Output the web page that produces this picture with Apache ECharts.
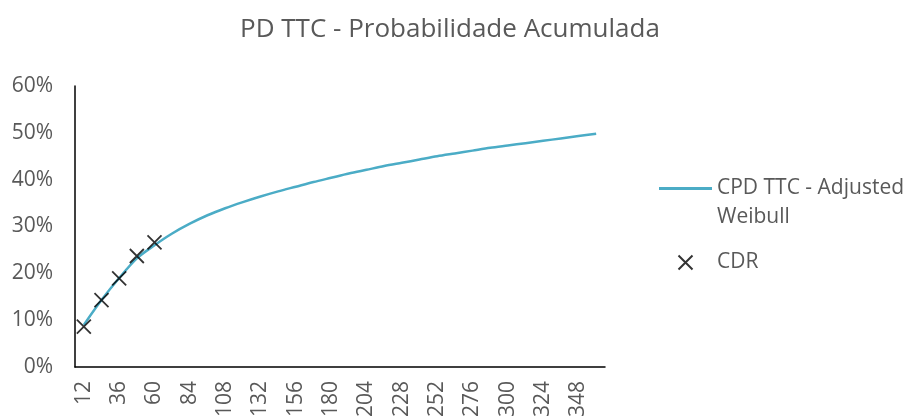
<!DOCTYPE html>
<html>
<head>
<meta charset="utf-8">
<script src="https://cdn.jsdelivr.net/npm/echarts@6/dist/echarts.min.js"></script>
<style>
  html, body { margin: 0; padding: 0; background: #fff; }
  #chart { width: 905px; height: 416px; }
</style>
</head>
<body>
<div id="chart"></div>
<script>
// meses (categorias do eixo x)
const months = ['12', '24', '36', '48', '60', '72', '84', '96', '108', '120',
  '132', '144', '156', '168', '180', '192', '204', '216', '228', '240',
  '252', '264', '276', '288', '300', '312', '324', '336', '348', '360']

// PD acumulada - Weibull ajustada (%)
const weibull = [9.0, 14.3, 19.0, 23.2, 26.0, 28.5, 30.6, 32.4, 33.9, 35.2,
  36.4, 37.5, 38.5, 39.5, 40.4, 41.3, 42.1, 42.9, 43.6, 44.3,
  45.0, 45.6, 46.2, 46.8, 47.3, 47.8, 48.3, 48.8, 49.3, 49.8]

// CDR observado (%)
const cdr = [8.6, 14.3, 18.9, 23.7, 26.6]

const yTicks = [0, 10, 20, 30, 40, 50, 60]

const gray = '#595959'
const font = 'Open Sans'

const chart = echarts.init(document.getElementById('chart'))

const option = {
  backgroundColor: '#fff',
  title: {
    text: 'PD TTC - Probabilidade Acumulada',
    left: 235,
    top: 12,
    textStyle: { color: gray, fontSize: 26, fontWeight: 'normal', fontFamily: font }
  },
  legend: {
    orient: 'vertical',
    left: 654,
    top: 140,
    itemWidth: 53,
    itemHeight: 14,
    itemGap: 16,
    textStyle: { color: gray, fontSize: 21, fontFamily: font, lineHeight: 29 },
    formatter: (name) => name === 'CDR' ? name : '\nCPD TTC - Adjusted\nWeibull',
    data: [
      { name: 'CPD TTC - Adjusted Weibull', icon: 'path://M0,0L53,0L53,3L0,3Z' },
      { name: 'CDR' }
    ]
  },
  grid: {
    left: 75,
    right: 300,
    top: 86,
    bottom: 49,
    outerBoundsMode: 'none'
  },
  xAxis: {
    type: 'category',
    data: months,
    boundaryGap: true,
    axisLine: { lineStyle: { color: '#000', width: 1.5 } },
    axisTick: { show: false },
    axisLabel: {
      interval: 1,
      rotate: 90,
      margin: 14,
      color: gray,
      fontSize: 21,
      fontFamily: font
    }
  },
  yAxis: {
    type: 'value',
    min: 0,
    max: 60,
    interval: 10,
    axisLine: { show: true, lineStyle: { color: '#000', width: 1.5 } },
    axisTick: { show: false },
    splitLine: { show: false },
    axisLabel: {
      margin: 22,
      color: gray,
      fontSize: 21,
      fontFamily: font,
      formatter: (v) => yTicks.includes(v) ? v + '%' : ''
    }
  },
  series: [
    {
      name: 'CPD TTC - Adjusted Weibull',
      type: 'line',
      data: weibull,
      smooth: 0.3,
      symbol: 'none',
      lineStyle: { color: '#4BACC6', width: 2.5 },
      itemStyle: { color: '#4BACC6' },
      z: 2
    },
    {
      name: 'CDR',
      type: 'scatter',
      data: cdr,
      symbol: 'path://M0,0L10,10M10,0L0,10',
      symbolSize: 14,
      itemStyle: { color: 'transparent', borderColor: '#000', borderWidth: 1.8 },
      z: 3
    }
  ]
}

chart.setOption(option)
</script>
</body>
</html>
